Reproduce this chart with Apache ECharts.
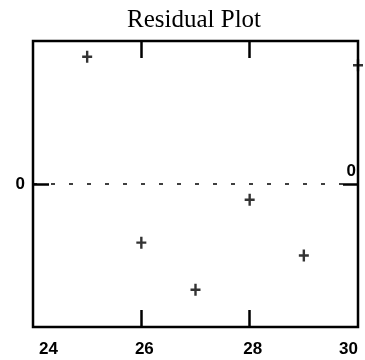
<!DOCTYPE html>
<html>
<head>
<meta charset="utf-8">
<script src="https://cdn.jsdelivr.net/npm/echarts@6/dist/echarts.min.js"></script>
<style>
  html, body { margin: 0; padding: 0; background: #fff; }
  #chart { width: 365px; height: 360px; }
</style>
</head>
<body>
<div id="chart"></div>
<script>
// 数据
const xValues = [25, 26, 27, 28, 29, 30];
const residuals = [0.89, -0.41, -0.74, -0.11, -0.50, 0.83];
const xTicks = [24, 26, 28, 30];
const xInnerTicks = [26, 28];

const chart = echarts.init(document.getElementById('chart'));

const plusSymbol = 'path://M3.8,0H6.2V12H3.8ZM0,4.8H10V7.2H0Z';
const labelFont = { fontFamily: 'Liberation Sans', fontSize: 17, fontWeight: 'bold', color: '#000' };

const option = {
  backgroundColor: '#fff',
  animation: false,
  title: {
    text: 'Residual Plot',
    left: 122,
    top: 3,
    textStyle: { fontFamily: 'Liberation Serif', fontSize: 25, fontWeight: 'normal', color: '#000' }
  },
  grid: {
    left: 33, right: 7, top: 41, bottom: 33,
    outerBoundsMode: 'none',
    containLabel: false,
    show: true, borderColor: '#000', borderWidth: 2.5, backgroundColor: 'transparent'
  },
  xAxis: [{
    type: 'value', position: 'bottom', min: 24, max: 30, interval: 2,
    axisLine: { show: false, onZero: false },
    axisTick: { inside: true, length: 17, customValues: xInnerTicks, lineStyle: { color: '#000', width: 2.5 } },
    axisLabel: {
      margin: 14, ...labelFont, customValues: xTicks,
      alignMinLabel: 'left', alignMaxLabel: 'right', padding: [0, 0, 0, 6]
    },
    splitLine: { show: false }
  }, {
    type: 'value', position: 'top', min: 24, max: 30, interval: 2,
    axisLine: { show: false, onZero: false },
    axisTick: { inside: true, length: 17, customValues: xInnerTicks, lineStyle: { color: '#000', width: 2.5 } },
    axisLabel: { show: false },
    splitLine: { show: false }
  }],
  yAxis: [{
    type: 'value', position: 'left', min: -1, max: 1,
    axisLine: { show: false, onZero: false },
    axisTick: { inside: true, length: 16, customValues: [0], lineStyle: { color: '#000', width: 2.5 } },
    axisLabel: { margin: 8, customValues: [0], ...labelFont },
    splitLine: { show: false }
  }, {
    type: 'value', position: 'right', min: -1, max: 1,
    axisLine: { show: false, onZero: false },
    axisTick: { inside: true, length: 15, customValues: [0], lineStyle: { color: '#000', width: 2.5 } },
    axisLabel: { inside: true, margin: 2, customValues: [0], verticalAlign: 'bottom', padding: [0, 0, 4, 0], ...labelFont },
    splitLine: { show: false }
  }],
  series: [{
    type: 'scatter',
    xAxisIndex: 0, yAxisIndex: 0,
    data: xValues.map((x, i) => [x, residuals[i]]),
    symbol: plusSymbol,
    symbolSize: [10, 12],
    clip: false,
    itemStyle: { color: '#000' },
    markLine: {
      silent: true,
      symbol: 'none',
      label: { show: false },
      lineStyle: { color: '#000', type: [4, 14], width: 1.5 },
      data: [{ yAxis: 0 }]
    }
  }]
};

chart.setOption(option);
</script>
</body>
</html>
